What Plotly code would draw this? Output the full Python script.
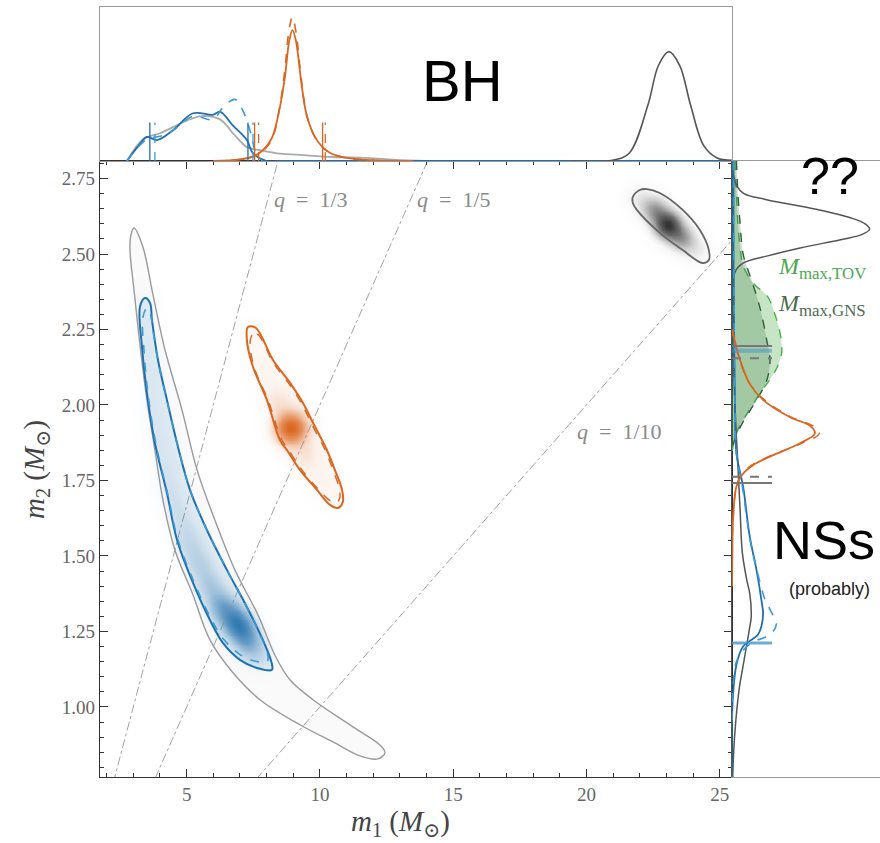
import numpy as np
import plotly.graph_objects as go

# ---------------- axes / ticks ----------------
X_RANGE = [1.75, 25.46]
Y_RANGE = [0.768, 2.808]
X_TICKS = [5, 10, 15, 20, 25]
Y_TICKS = [1.00, 1.25, 1.50, 1.75, 2.00, 2.25, 2.50, 2.75]
Q_VALUES = [1/3, 1/5, 1/10]
Q_LABELS = ["<i>q</i>&nbsp;&nbsp;=&nbsp;&nbsp;1/3", "<i>q</i>&nbsp;&nbsp;=&nbsp;&nbsp;1/5", "<i>q</i>&nbsp;&nbsp;=&nbsp;&nbsp;1/10"]
Q_LABEL_X = [8.2, 13.56, 19.56]
Q_LABEL_Y = [2.679, 2.679, 1.911]

# ---------------- 2D credible contours ----------------
gray_banana_x = [3.025, 3.36, 3.74, 4.19, 4.825, 5.39, 6.06, 6.81, 7.675, 8.31, 8.875, 9.74, 11.24, 12.29, 12.44,
                 12.175, 11.5, 10.49, 9.25, 7.75, 6.74, 5.875, 5.24, 4.56, 4.11, 3.81, 3.51, 3.25, 3.025, 2.875, 2.91, 3.025]
gray_banana_y = [2.586, 2.523, 2.364, 2.182, 1.984, 1.785, 1.619, 1.454, 1.305, 1.172, 1.090, 1.024, 0.934, 0.871, 0.848,
                 0.828, 0.838, 0.884, 0.941, 1.024, 1.113, 1.222, 1.371, 1.520, 1.686, 1.851, 2.017, 2.199, 2.381, 2.513, 2.563, 2.586]

blue_x = [3.44, 3.625, 3.70, 3.925, 4.26, 4.675, 5.125, 5.76, 6.51, 7.26, 7.86, 8.19, 8.20, 7.64, 7.00, 6.36, 5.875,
          5.24, 4.64, 4.26, 3.81, 3.51, 3.325, 3.25, 3.44]
blue_y = [2.354, 2.338, 2.281, 2.149, 2.017, 1.861, 1.719, 1.586, 1.454, 1.331, 1.222, 1.146, 1.123, 1.129, 1.156,
          1.212, 1.288, 1.411, 1.553, 1.709, 1.874, 2.040, 2.192, 2.325, 2.354]
blue_dash_x = [3.50, 3.64, 3.72, 3.94, 4.27, 4.68, 5.12, 5.74, 6.47, 7.20, 7.75, 8.05, 8.02, 7.55, 6.98, 6.38, 5.90,
               5.27, 4.67, 4.29, 3.85, 3.56, 3.40, 3.36, 3.50]
blue_dash_y = [2.32, 2.30, 2.26, 2.14, 2.01, 1.86, 1.72, 1.59, 1.46, 1.34, 1.24, 1.17, 1.15, 1.152, 1.175, 1.225, 1.295,
               1.415, 1.555, 1.705, 1.87, 2.03, 2.18, 2.29, 2.32]

orange_x = [7.30, 7.60, 8.24, 8.88, 9.36, 9.74, 10.26, 10.56, 10.83, 10.86, 10.68, 10.38, 9.89, 9.25, 8.76, 8.50, 8.01, 7.49, 7.26, 7.30]
orange_y = [2.258, 2.255, 2.149, 2.073, 2.007, 1.941, 1.851, 1.785, 1.719, 1.679, 1.659, 1.669, 1.719, 1.785, 1.851, 1.884, 2.017, 2.126, 2.215, 2.258]
orange_dash_x = [7.45, 7.65, 8.25, 8.88, 9.34, 9.70, 10.20, 10.48, 10.72, 10.74, 10.60, 10.35, 9.90, 9.28, 8.80, 8.55, 8.06, 7.55, 7.38, 7.45]
orange_dash_y = [2.23, 2.235, 2.140, 2.065, 2.000, 1.935, 1.850, 1.787, 1.725, 1.690, 1.675, 1.685, 1.725, 1.790, 1.855, 1.888, 2.015, 2.120, 2.200, 2.23]

gray_ell_x = [21.74, 22.0, 22.26, 22.75, 23.61, 24.25, 24.59, 24.59, 24.36, 23.61, 22.75, 21.89, 21.74, 21.74]
gray_ell_y = [2.689, 2.712, 2.715, 2.702, 2.646, 2.580, 2.513, 2.480, 2.470, 2.513, 2.570, 2.646, 2.669, 2.689]

# density ridge points (centre-lines) with relative intensity
blue_ridge_x = [3.36, 3.44, 3.55, 3.625, 3.74, 3.85, 4.0, 4.19, 4.375, 4.64, 4.94, 5.2, 5.5, 5.84, 6.175, 6.51, 6.89, 7.15, 7.375, 7.6, 7.825]
blue_ridge_y = [2.348, 2.265, 2.182, 2.099, 2.017, 1.944, 1.868, 1.792, 1.719, 1.652, 1.586, 1.527, 1.470, 1.411, 1.354, 1.315, 1.278, 1.242, 1.205, 1.179, 1.156]
blue_ridge_w = [0.06, 0.07, 0.08, 0.09, 0.10, 0.11, 0.12, 0.14, 0.16, 0.18, 0.21, 0.25, 0.30, 0.36, 0.45, 0.65, 1.0, 0.7, 0.35, 0.15, 0.08]
orange_ridge_x = [7.45, 7.94, 8.425, 8.91, 9.44, 10.0, 10.56]
orange_ridge_y = [2.232, 2.116, 2.017, 1.924, 1.835, 1.752, 1.686]
orange_ridge_w = [0.02, 0.05, 0.14, 1.0, 0.14, 0.05, 0.02]
grayell_ridge_x = [22.0, 22.56, 23.05, 23.575, 24.14]
grayell_ridge_y = [2.685, 2.646, 2.596, 2.553, 2.513]
grayell_ridge_w = [0.12, 0.45, 1.0, 0.45, 0.12]

# ---------------- top marginal (m1) ----------------
top_blue_x = [2.76, 3.2, 3.51, 3.89, 4.49, 5.24, 5.99, 6.25, 6.74, 7.26, 7.49, 8.01, 8.5, 25.46]
top_blue_y = [0, 0.10, 0.156, 0.136, 0.20, 0.31, 0.30, 0.32, 0.23, 0.136, 0.05, 0.0, 0, 0]
top_blue_dash_x = [2.76, 3.5, 4.0, 4.49, 5.24, 5.99, 6.37, 6.81, 7.1, 7.41, 7.6, 7.85]
top_blue_dash_y = [0, 0.14, 0.16, 0.20, 0.29, 0.27, 0.35, 0.40, 0.33, 0.18, 0.05, 0]
top_gray_x = [2.76, 3.36, 4.0, 5.5, 6.25, 6.74, 7.26, 7.75, 8.39, 9.25, 10.49, 11.76, 13.0, 14.5]
top_gray_y = [0, 0.14, 0.18, 0.29, 0.27, 0.18, 0.09, 0.07, 0.05, 0.04, 0.026, 0.02, 0.006, 0]
top_orange_x = [6.0, 7.0, 7.5, 7.86, 8.2, 8.5, 8.69, 8.85, 8.97, 9.1, 9.31, 9.5, 9.8, 10.1, 10.4, 11.0, 12.0, 13.5]
top_orange_y = [0, 0.01, 0.03, 0.07, 0.15, 0.35, 0.55, 0.78, 0.85, 0.78, 0.50, 0.30, 0.16, 0.09, 0.05, 0.02, 0.005, 0]
top_orange_dash_y = [0, 0.01, 0.03, 0.065, 0.14, 0.36, 0.60, 0.86, 0.935, 0.84, 0.52, 0.30, 0.16, 0.09, 0.05, 0.02, 0.005, 0]
top_bh_x = [19.5, 20.98, 21.6, 22.3, 22.7, 23.09, 23.5, 23.91, 24.4, 24.9, 25.46]
top_bh_y = [0, 0.005, 0.05, 0.36, 0.62, 0.71, 0.62, 0.36, 0.10, 0.02, 0.005]
top_int_blue = [3.62, 7.30]
top_int_blue_dash = [3.81, 7.49]
top_int_orange = [7.55, 10.10]
top_int_orange_dash = [7.70, 10.20]
INT_HEIGHT = 0.25

# ---------------- right marginal (m2) ----------------
r_gray_y = [2.808, 2.76, 2.727, 2.70, 2.68, 2.648, 2.62, 2.60, 2.582, 2.565, 2.549, 2.52, 2.493, 2.47, 2.44, 2.35, 2.2,
            2.0, 1.80, 1.65, 1.51, 1.42, 1.375, 1.30, 1.265, 1.15, 1.065, 0.95, 0.84, 0.768]
r_gray_d = [0.0, 0.01, 0.03, 0.08, 0.234, 0.57, 0.80, 0.90, 0.93, 0.88, 0.75, 0.46, 0.234, 0.075, 0.02, 0.01, 0.01,
            0.02, 0.04, 0.055, 0.07, 0.10, 0.12, 0.13, 0.12, 0.08, 0.05, 0.025, 0.01, 0.005]
r_tov_y = [2.808, 2.75, 2.70, 2.60, 2.50, 2.46, 2.40, 2.36, 2.30, 2.25, 2.20, 2.17, 2.12, 2.08, 2.04, 2.00, 1.97, 1.93, 1.906, 1.87, 1.84]
r_tov_d = [0.02, 0.025, 0.03, 0.04, 0.06, 0.075, 0.15, 0.24, 0.29, 0.32, 0.335, 0.335, 0.30, 0.25, 0.19, 0.14, 0.10, 0.05, 0.03, 0.01, 0.0]
r_gns_y = [2.808, 2.70, 2.60, 2.50, 2.43, 2.36, 2.30, 2.216, 2.15, 2.08, 2.02, 1.98, 1.94, 1.90, 1.86]
r_gns_d = [0.03, 0.04, 0.055, 0.075, 0.12, 0.167, 0.20, 0.234, 0.257, 0.234, 0.17, 0.12, 0.07, 0.03, 0.0]
r_orange_y = [2.25, 2.15, 2.07, 2.017, 1.96, 1.93, 1.906, 1.873, 1.83, 1.80, 1.77, 1.73, 1.62, 1.50, 1.40]
r_orange_d = [0.0, 0.054, 0.12, 0.21, 0.39, 0.53, 0.56, 0.46, 0.26, 0.14, 0.07, 0.03, 0.007, 0.002, 0.0]
r_orange_dash_d = [0.0, 0.05, 0.12, 0.22, 0.40, 0.55, 0.59, 0.47, 0.25, 0.13, 0.065, 0.03, 0.007, 0.002, 0.0]
r_blue_y = [2.808, 2.5, 2.2, 2.0, 1.84, 1.73, 1.564, 1.45, 1.35, 1.31, 1.27, 1.24, 1.20, 1.14, 1.04, 0.95, 0.768]
r_blue_d = [0.01, 0.01, 0.015, 0.02, 0.03, 0.075, 0.12, 0.167, 0.20, 0.21, 0.20, 0.176, 0.075, 0.03, 0.007, 0.0, 0.0]
r_blue_dash_y = [2.808, 2.0, 1.84, 1.73, 1.56, 1.45, 1.36, 1.32, 1.275, 1.24, 1.22, 1.20, 1.15, 1.05, 0.95]
r_blue_dash_d = [0.01, 0.02, 0.03, 0.07, 0.12, 0.17, 0.22, 0.26, 0.30, 0.26, 0.167, 0.10, 0.03, 0.005, 0.0]
# interval markers (y level, style)
r_int_levels = [2.195, 2.18, 2.155, 1.762, 1.742, 1.212]
r_int_colors = ["#777777", "rgba(70,150,200,0.55)", "#777777", "#777777", "#777777", "rgba(70,150,200,0.8)"]
r_int_dash = ["solid", "solid", "dash", "dash", "solid", "solid"]
r_int_width = [2, 4, 2, 2, 2, 3]
R_INT_LEN = 0.27

# ---------------- colours ----------------
BLUE = "#1f6fae"
BLUE_D = "#3a9ad6"
ORANGE = "#d9661f"
GRAY = "#555555"
LGRAY = "#9a9a9a"
GREEN = "#47b04b"
DGREEN = "#2f5f3a"

DX_MAIN = [100/880, 732/880]
DY_MAIN = [(843-777)/843, (843-161)/843]
DY_TOP = [(843-161)/843, (843-7)/843]
DX_RIGHT = [732/880, 1.0]
PX_X = 632/(X_RANGE[1]-X_RANGE[0])
PX_Y = 616/(Y_RANGE[1]-Y_RANGE[0])


def ridge_density(rx, ry, rw, sig, xr, yr, n=(180, 280)):
    gx = np.linspace(xr[0], xr[1], n[0])
    gy = np.linspace(yr[0], yr[1], n[1])
    GX, GY = np.meshgrid(gx, gy)
    Z = np.zeros_like(GX)
    for x0, y0, w in zip(rx, ry, rw):
        d2 = ((GX - x0) * PX_X) ** 2 + ((GY - y0) * PX_Y) ** 2
        Z += w * np.exp(-d2 / (2 * sig ** 2))
    return gx, gy, Z / Z.max()


fig = go.Figure()

# shading
for (rx, ry, rw, sig, xr, yr, rgb) in [
    (blue_ridge_x, blue_ridge_y, blue_ridge_w, 10, [2.5, 9.0], [0.95, 2.6], "31,111,174"),
    (orange_ridge_x, orange_ridge_y, orange_ridge_w, 11, [6.5, 11.5], [1.55, 2.4], "217,95,20"),
    (grayell_ridge_x, grayell_ridge_y, grayell_ridge_w, 9, [21.0, 25.3], [2.38, 2.8], "40,40,40"),
]:
    gx, gy, Z = ridge_density(rx, ry, rw, sig, xr, yr)
    fig.add_trace(go.Heatmap(
        x=gx, y=gy, z=Z, zmin=0, zmax=1, zsmooth="best", showscale=False, hoverinfo="skip",
        colorscale=[[0, f"rgba({rgb},0)"], [0.08, f"rgba({rgb},0.05)"], [0.3, f"rgba({rgb},0.3)"],
                    [0.6, f"rgba({rgb},0.65)"], [1, f"rgba({rgb},0.95)"]],
        xaxis="x", yaxis="y"))

# q lines
for q in Q_VALUES:
    fig.add_trace(go.Scatter(x=[0, 30], y=[0, 30*q], mode="lines", hoverinfo="skip",
                             line=dict(color="#8a8a8a", width=0.8, dash="dashdot"), xaxis="x", yaxis="y"))

# filled faint regions
fig.add_trace(go.Scatter(x=gray_banana_x, y=gray_banana_y, mode="lines", fill="toself", line_shape="spline",
                         fillcolor="rgba(140,140,140,0.04)", line=dict(color=LGRAY, width=1.4), xaxis="x", yaxis="y"))
fig.add_trace(go.Scatter(x=blue_x, y=blue_y, mode="lines", fill="toself", line_shape="spline",
                         fillcolor="rgba(60,140,200,0.12)", line=dict(color=BLUE, width=2), xaxis="x", yaxis="y"))
fig.add_trace(go.Scatter(x=blue_dash_x, y=blue_dash_y, mode="lines", line_shape="spline",
                         line=dict(color=BLUE_D, width=1.6, dash="dash"), xaxis="x", yaxis="y"))
fig.add_trace(go.Scatter(x=orange_x, y=orange_y, mode="lines", fill="toself", line_shape="spline",
                         fillcolor="rgba(217,95,20,0.04)", line=dict(color=ORANGE, width=2), xaxis="x", yaxis="y"))
fig.add_trace(go.Scatter(x=orange_dash_x, y=orange_dash_y, mode="lines", line_shape="spline",
                         line=dict(color=ORANGE, width=1.4, dash="dash"), xaxis="x", yaxis="y"))
fig.add_trace(go.Scatter(x=gray_ell_x, y=gray_ell_y, mode="lines", line_shape="spline",
                         line=dict(color="#666666", width=1.8), xaxis="x", yaxis="y"))

# ---- top marginal ----
def top_line(x, y, color, dash="solid", width=1.6):
    fig.add_trace(go.Scatter(x=x, y=y, mode="lines", line_shape="spline", hoverinfo="skip",
                             line=dict(color=color, width=width, dash=dash), xaxis="x2", yaxis="y2"))

top_line(top_gray_x, top_gray_y, "#aaaaaa", width=1.8)
top_line(top_blue_x, top_blue_y, BLUE, width=1.8)
top_line(top_blue_dash_x, top_blue_dash_y, BLUE_D, dash="dash")
top_line(top_orange_x, top_orange_y, ORANGE, width=1.8)
top_line(top_orange_x, top_orange_dash_y, ORANGE, dash="dash")
top_line(top_bh_x, top_bh_y, GRAY, width=1.6)
for vals, col, dsh in [(top_int_blue, BLUE, "solid"), (top_int_blue_dash, BLUE_D, "dash"),
                       (top_int_orange, ORANGE, "solid"), (top_int_orange_dash, ORANGE, "dash")]:
    for v in vals:
        fig.add_trace(go.Scatter(x=[v, v], y=[0, INT_HEIGHT], mode="lines", hoverinfo="skip",
                                 line=dict(color=col, width=1.3, dash=dsh), xaxis="x2", yaxis="y2"))

# ---- right marginal ----
def right_line(y, d, color, dash="solid", width=1.6, fill=None, fillcolor=None):
    fig.add_trace(go.Scatter(x=d, y=y, mode="lines", line_shape="spline", hoverinfo="skip",
                             fill=fill, fillcolor=fillcolor,
                             line=dict(color=color, width=width, dash=dash), xaxis="x3", yaxis="y3"))

right_line(r_tov_y, r_tov_d, GREEN, dash="dash", width=1.4, fill="tozerox", fillcolor="rgba(90,180,90,0.35)")
right_line(r_gns_y, r_gns_d, DGREEN, dash="dash", width=1.4, fill="tozerox", fillcolor="rgba(40,100,50,0.22)")
right_line(r_gray_y, r_gray_d, GRAY, width=1.5)
right_line(r_blue_y, r_blue_d, BLUE, width=1.8)
right_line(r_blue_dash_y, r_blue_dash_d, BLUE_D, dash="dash", width=1.6)
right_line(r_orange_y, r_orange_d, ORANGE, width=1.8)
right_line(r_orange_y, r_orange_dash_d, ORANGE, dash="dash", width=1.4)
for lv, col, dsh, wd in zip(r_int_levels, r_int_colors, r_int_dash, r_int_width):
    fig.add_trace(go.Scatter(x=[0, R_INT_LEN], y=[lv, lv], mode="lines", hoverinfo="skip",
                             line=dict(color=col, width=wd, dash=dsh), xaxis="x3", yaxis="y3"))

TICKFONT = dict(family="Liberation Serif, DejaVu Serif, serif", size=19, color="#666666")

fig.update_layout(
    width=880, height=843, margin=dict(l=0, r=0, t=0, b=0),
    paper_bgcolor="white", plot_bgcolor="white", showlegend=False,
    xaxis=dict(domain=DX_MAIN, anchor="y", range=X_RANGE, tickvals=X_TICKS, ticks="inside", ticklen=8,
               tickwidth=1.3, tickcolor="#333", showline=True, linecolor="#333", linewidth=1.3, mirror="allticks",
               showgrid=False, zeroline=False, tickfont=TICKFONT,
               minor=dict(dtick=1, tick0=0, ticks="inside", ticklen=4, tickcolor="#333", showgrid=False)),
    yaxis=dict(domain=DY_MAIN, anchor="x", range=Y_RANGE, tickvals=Y_TICKS, tickformat=".2f", ticks="inside",
               ticklen=8, tickwidth=1.3, tickcolor="#333", showline=True, linecolor="#333", linewidth=1.3,
               mirror="allticks", showgrid=False, zeroline=False, tickfont=TICKFONT,
               minor=dict(dtick=0.05, tick0=0, ticks="inside", ticklen=4, tickcolor="#333", showgrid=False)),
    xaxis2=dict(domain=DX_MAIN, anchor="y2", matches="x", showticklabels=False, ticks="", showline=True,
                mirror=True, linecolor="#999", showgrid=False, zeroline=False),
    yaxis2=dict(domain=DY_TOP, anchor="x2", range=[0, 1], showticklabels=False, ticks="", showline=True,
                mirror=True, linecolor="#999", showgrid=False, zeroline=False),
    xaxis3=dict(domain=DX_RIGHT, anchor="y3", range=[0, 1], showticklabels=False, ticks="", showline=True,
                mirror=True, linecolor="#999", showgrid=False, zeroline=False),
    yaxis3=dict(domain=DY_MAIN, anchor="x3", matches="y", showticklabels=False, ticks="", showline=True,
                mirror=False, linecolor="#555", showgrid=False, zeroline=False),
)

ann = []
SERIF = "Liberation Serif, DejaVu Serif, serif"
SANS = "Liberation Sans, Arial, sans-serif"
for lab, lx, ly in zip(Q_LABELS, Q_LABEL_X, Q_LABEL_Y):
    ann.append(dict(text=lab, x=lx, y=ly, xref="x", yref="y", xanchor="left", yanchor="middle", showarrow=False,
                    font=dict(family=SERIF, size=22, color="#8a8a8a")))
ann += [
    dict(text="<i>m</i><sub>2</sub>&nbsp;(<i>M</i><sub>⊙</sub>)", x=36/880, y=(843-470)/843, xref="paper", yref="paper",
         xanchor="center", yanchor="middle", textangle=-90, showarrow=False,
         font=dict(family=SERIF, size=29, color="#444")),
    dict(text="<i>m</i><sub>1</sub>&nbsp;(<i>M</i><sub>⊙</sub>)", x=400/880, y=(843-823)/843, xref="paper", yref="paper",
         xanchor="center", yanchor="middle", showarrow=False, font=dict(family=SERIF, size=29, color="#444")),
    dict(text="BH", x=462/880, y=(843-80)/843, xref="paper", yref="paper", xanchor="center", yanchor="middle",
         showarrow=False, font=dict(family=SANS, size=58, color="black")),
    dict(text="??", x=830/880, y=(843-176)/843, xref="paper", yref="paper", xanchor="center", yanchor="middle",
         showarrow=False, font=dict(family=SANS, size=52, color="black")),
    dict(text="NSs", x=771/880, y=(843-540)/843, xref="paper", yref="paper", xanchor="left", yanchor="middle",
         showarrow=False, font=dict(family=SANS, size=54, color="black")),
    dict(text="(probably)", x=829/880, y=(843-589)/843, xref="paper", yref="paper", xanchor="center",
         yanchor="middle", showarrow=False, font=dict(family=SANS, size=18, color="#222")),
    dict(text="<i>M</i><sub>max,TOV</sub>", x=776/880, y=(843-268)/843, xref="paper", yref="paper",
         xanchor="left", yanchor="middle", showarrow=False, font=dict(family=SERIF, size=24, color="#4aa84e")),
    dict(text="<i>M</i><sub>max,GNS</sub>", x=776/880, y=(843-305)/843, xref="paper", yref="paper",
         xanchor="left", yanchor="middle", showarrow=False, font=dict(family=SERIF, size=24, color="#4d6b52")),
]
fig.update_layout(annotations=ann)

fig.write_html("out.html")
